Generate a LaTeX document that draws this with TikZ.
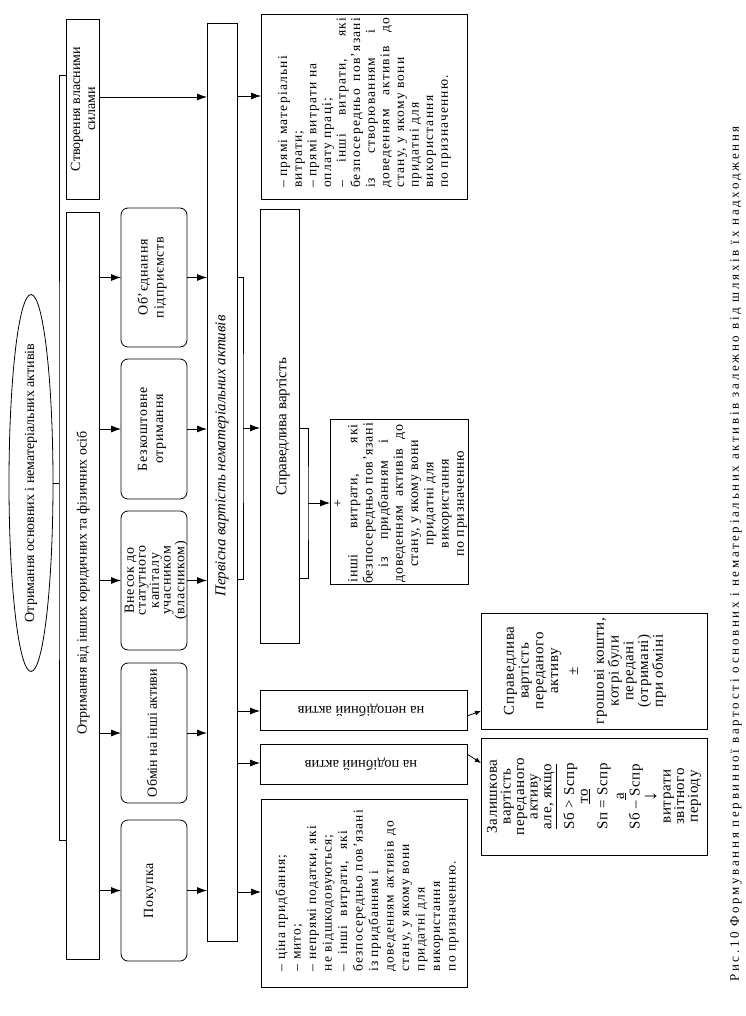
\documentclass[tikz,border=0pt]{standalone}
\usepackage{fontspec}
\setmainfont{Liberation Serif}
\usetikzlibrary{arrows.meta,shapes.geometric}
\newcommand\fs[2]{\fontsize{#1pt}{#2pt}\selectfont}
\newcommand\vt[2]{\rotatebox{90}{\parbox{#1}{#2}}}
\newcommand\sj[2]{\makebox[#1][s]{#2}}
\begin{document}
\begin{tikzpicture}[x=1pt,y=-1pt,
  bx/.style={draw, line width=0.8pt, inner sep=0pt, outer sep=0pt},
  rbx/.style={bx, rounded corners=7pt},
  txt/.style={inner sep=0pt, outer sep=0pt},
  arr/.style={line width=0.8pt, -{Latex[length=10pt,width=7pt]}},
  sarr/.style={line width=0.8pt, -{Latex[length=6pt,width=5pt]}},
  ln/.style={line width=0.8pt}]
\useasboundingbox (0,0) rectangle (745,1016);
\fill[white] (0,0) rectangle (745,1016);
% ellipse
\node[draw, ellipse, line width=0.8pt, inner sep=0pt, minimum width=44pt, minimum height=377pt] (ell) at (31,483) {};
\node[txt] (ellt) at (31,483) {\rotatebox{90}{\fs{14}{16}Отримання основних і нематеріальних активів}};
% column 2
\node[bx, minimum width=33pt, minimum height=180pt] (stv) at (82.5,109) {};
\node[txt] (stvt) at (83,109) {\vt{170pt}{\centering\fs{14}{15}Створення власними\\силами}};
\node[bx, minimum width=33pt, minimum height=747pt] (otr) at (82.5,585.5) {};
\node[txt] (otrt) at (83,583) {\rotatebox{90}{\fs{14}{16}Отримання від інших юридичних та фізичних осіб}};
% rounded boxes
\node[rbx, minimum width=66pt, minimum height=139pt] (obj) at (154,277.5) {};
\node[txt] (objt) at (152,277.5) {\vt{130pt}{\centering\fs{14}{16}\addfontfeature{LetterSpace=5}Об'єднання\\підприємств}};
\node[rbx, minimum width=66pt, minimum height=140pt] (bez) at (154,429) {};
\node[txt] (bezt) at (152,429) {\vt{130pt}{\centering\fs{14}{16}\addfontfeature{LetterSpace=5}Безкоштовне\\отримання}};
\node[rbx, minimum width=66pt, minimum height=139pt] (vne) at (154,580.5) {};
\node[txt] (vnet) at (156,580.5) {\vt{130pt}{\centering\fs{14}{11.8}\addfontfeature{LetterSpace=5}Внесок до\\статутного\\капіталу\\учасником\\(власником)}};
\node[rbx, minimum width=66pt, minimum height=140pt] (obm) at (154,733) {};
\node[txt] (obmt) at (152,733) {\rotatebox{90}{\fs{14}{16}Обмін на інші активи}};
\node[rbx, minimum width=66pt, minimum height=141pt] (pok) at (154,890.5) {};
\node[txt] (pokt) at (150,890.5) {\rotatebox{90}{\fs{14}{16}\addfontfeature{LetterSpace=5}Покупка}};
% perv
\node[bx, minimum width=30pt, minimum height=918pt] (perv) at (222,482) {};
\node[txt] (pervt) at (222,456) {\rotatebox{90}{\fs{15}{17}\itshape Первісна вартість нематеріальних активів}};
% right column
\node[bx, minimum width=206pt, minimum height=185pt] (top) at (364,106.5) {};
\node[txt] (topt) at (364.5,102) {\vt{172pt}{\fs{13.5}{14.6}\addfontfeature{LetterSpace=9}\raggedright
– прямі матеріальні\\
витрати;\\
– прямі витрати на\\
оплату праці;\\
\sj{170pt}{– інші витрати, які}\\
\sj{170pt}{безпосередньо пов'язані}\\
\sj{158pt}{із створюванням і}\\
\sj{170pt}{доведенням активів до}\\
стану, у якому вони\\
придатні для\\
використання\\
по призначенню.}};
\node[bx, minimum width=39pt, minimum height=434pt] (spr) at (279.5,426) {};
\node[txt] (sprt) at (283,427) {\rotatebox{90}{\fs{15}{17}Справедлива вартість}};
\node[bx, minimum width=138pt, minimum height=165pt] (inshi) at (399,501.5) {};
\node[txt] (inshit) at (400.5,503.5) {\vt{164pt}{\centering\fs{14}{15.2}\addfontfeature{LetterSpace=5}+\\
\sj{158pt}{інші витрати, які}\\
\mbox{безпосередньо пов'язані}\\
\sj{127pt}{із придбанням і}\\
\sj{158pt}{доведенням активів до}\\
стану, у якому вони\\
придатні для\\
використання\\
по призначенню}};
\node[bx, minimum width=207pt, minimum height=40pt] (nepod) at (363.5,710) {};
\node[txt] (nepodt) at (361,710) {\rotatebox{180}{\fs{14.5}{16}на неподібний актив}};
\node[bx, minimum width=207pt, minimum height=40pt] (pod) at (363.5,764) {};
\node[txt] (podt) at (361,764) {\rotatebox{180}{\fs{14.5}{16}на подібний актив}};
\node[bx, minimum width=206pt, minimum height=188pt] (bot) at (364,893) {};
\node[txt] (bott) at (367,888) {\vt{166pt}{\fs{13.5}{15.5}\addfontfeature{LetterSpace=7}\raggedright
– ціна придбання;\\
– мито;\\
– непрямі податки, які\\
не відшкодовуються;\\
\sj{140pt}{– інші витрати, які}\\
\mbox{безпосередньо пов'язані}\\
\sj{100pt}{із придбанням і}\\
\sj{150pt}{доведенням активів до}\\
стану, у якому вони\\
придатні для\\
використання\\
по призначенню.}};
% far right boxes
\node[bx, minimum width=226pt, minimum height=116pt] (sprper) at (594,671) {};
\node[txt] (sprpert) at (585,671) {\vt{112pt}{\centering\fs{15}{14.8}\addfontfeature{LetterSpace=4}Справедлива\\вартість\\переданого\\активу\\[5pt]±\\[11pt]грошові кошти,\\котрі були\\передані\\(отримані)\\при обміні}};
\node[bx, minimum width=226pt, minimum height=117pt] (zal) at (594,796.5) {};
\node[txt] (zalt) at (594,796.5) {\vt{112pt}{\centering\fs{15}{13.6}\addfontfeature{LetterSpace=4}Залишкова\\вартість\\переданого\\активу\\\underline{але, якщо}\\[6pt]Sб > Sспр\\\underline{то}\\[6pt]Sп = Sспр\\[3pt]\underline{а}\\[2pt]Sб – Sспр\\[1pt]{\fs{20}{16}↓}\\[1pt]витрати\\звітного\\періоду}};
% caption
\node[txt] (cap) at (736,554) {\rotatebox{90}{\fs{13}{15}\addfontfeature{LetterSpace=20.5}Рис.10 Формування первинної вартості основних і нематеріальних активів залежно від шляхів їх надходження}};
% connectors: left bracket
\coordinate (lb) at (59,483);
\draw[ln] (ell.east) -- (lb);
\draw[ln] (stv.west |- 0,75) -| (lb) |- (otr.west |- 0,840);
% otr -> rounded boxes -> perv
\foreach \n in {obj,bez,vne,obm,pok}{
  \draw[arr] (otr.east |- \n.west) -- (\n.west);
  \draw[arr] (\n.east) -- (\n.east -| perv.west);
}
\draw[arr] (stv.east |- 0,97) -- (perv.west |- 0,97);
% perv -> right column
\draw[arr] (perv.east |- 0,96) -- (top.west |- 0,96);
\coordinate (rb1) at (243,428);
\draw[ln] (perv.east |- 0,277) -| (rb1) |- (perv.east |- 0,579);
\draw[arr] (rb1) -- (rb1 -| spr.west);
\coordinate (rb2) at (308,503);
\draw[ln] (spr.east |- 0,428) -| (rb2) |- (spr.east |- 0,578);
\draw[arr] (rb2) -- (rb2 -| inshi.west);
\draw[arr] (perv.east |- 0,711) -- (nepod.west |- 0,711);
\draw[arr] (perv.east |- 0,763) -- (pod.west |- 0,763);
\draw[arr] (perv.east |- 0,892) -- (bot.west |- 0,892);
\draw[sarr] (nepod.east |- 0,716) -- (sprper.west |- 0,711);
\draw[sarr] (pod.east |- 0,754) -- (zal.west |- 0,763);
\end{tikzpicture}
\end{document}
